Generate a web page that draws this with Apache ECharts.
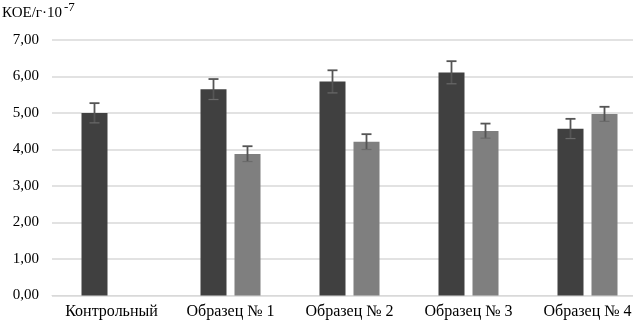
<!DOCTYPE html>
<html><head><meta charset="utf-8">
<script src="https://cdn.jsdelivr.net/npm/echarts@6/dist/echarts.min.js"></script>
<style>html,body{margin:0;padding:0;background:#fff;overflow:hidden;width:633px;height:325px}#c{width:647px;height:325px}</style>
</head><body><div id="c"></div>
<script>
var categories = ['Контрольный', 'Образец № 1', 'Образец № 2', 'Образец № 3', 'Образец № 4'];
var seriesA = [5.00, 5.65, 5.86, 6.11, 4.57];
var errA = [0.27, 0.28, 0.31, 0.31, 0.27];
var seriesB = [null, 3.88, 4.21, 4.51, 4.97];
var errB = [null, 0.21, 0.21, 0.20, 0.20];
var yTicks = [0, 1, 2, 3, 4, 5, 6, 7];

var BAR_W = 26, GAP = 8;
var chart = echarts.init(document.getElementById('c'));
var font = '"Liberation Serif", "DejaVu Serif", serif';

function errSeries(vals, errs, sign) {
  return {
    type: 'custom',
    z: 10,
    data: vals.map(function (v, i) { return v == null ? null : [i, v, errs[i]]; }).filter(function(d){return d;}),
    renderItem: function (params, api) {
      var i = api.value(0), v = api.value(1), e = api.value(2);
      var off = sign * (BAR_W + GAP) / 2;
      var top = api.coord([i, v + e]);
      var bot = api.coord([i, v - e]);
      var x = top[0] + off;
      var hw = 5;
      var st = { stroke: '#555555', lineWidth: 1.8 };
      return { type: 'group', children: [
        { type: 'line', shape: { x1: x, y1: top[1], x2: x, y2: bot[1] }, style: st },
        { type: 'line', shape: { x1: x - hw, y1: top[1], x2: x + hw, y2: top[1] }, style: st },
        { type: 'line', shape: { x1: x - hw, y1: bot[1], x2: x + hw, y2: bot[1] }, style: { stroke: '#6a6a6a', lineWidth: 1.2 } }
      ]};
    }
  };
}

chart.setOption({
  animation: false,
  textStyle: { fontFamily: font },
  grid: { left: 52, top: 40, right: 0, bottom: 29.5, containLabel: false },
  graphic: [
    { type: 'text', left: 2, top: 6, style: { text: 'КОЕ/г·10', font: '15px ' + font, fill: '#000' } },
    { type: 'text', left: 64, top: 1, style: { text: '-7', font: '13px ' + font, fill: '#000' } }
  ],
  xAxis: {
    type: 'category', data: categories,
    axisLine: { lineStyle: { color: '#d9d9d9', width: 1 } },
    axisTick: { show: false },
    axisLabel: { color: '#000', fontSize: 16, fontFamily: font, margin: 8, interval: 0 }
  },
  yAxis: {
    type: 'value', min: 0, max: 7, interval: 1,
    axisLine: { show: false }, axisTick: { show: false },
    splitLine: { lineStyle: { color: '#d9d9d9', width: 1.5 } },
    axisLabel: { color: '#000', fontSize: 15, fontFamily: font, margin: 13,
      formatter: function (v) { return v.toFixed(2).replace('.', ','); } }
  },
  series: [
    { type: 'bar', data: seriesA, barWidth: BAR_W, barGap: (GAP / BAR_W * 100) + '%', itemStyle: { color: '#404040' } },
    { type: 'bar', data: seriesB.map(function(v){return v == null ? '-' : v;}), barWidth: BAR_W, itemStyle: { color: '#7f7f7f' } },
    errSeries(seriesA, errA, -1),
    errSeries(seriesB, errB, 1)
  ]
});
</script></body></html>
